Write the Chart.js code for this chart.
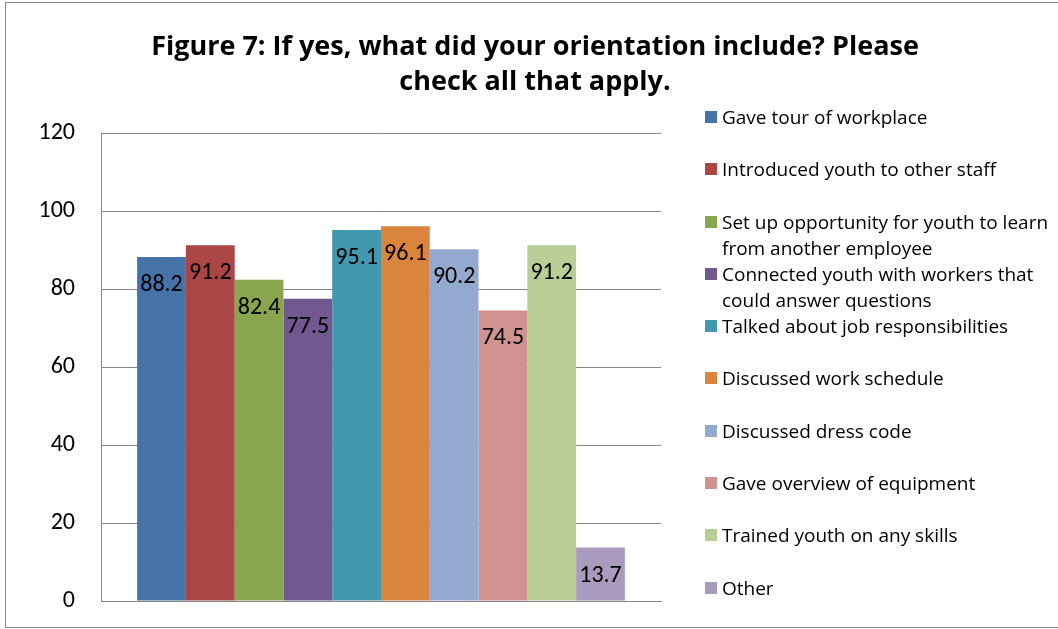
<!DOCTYPE html>
<html>
<head>
<meta charset="UTF-8">
<script src="https://cdn.jsdelivr.net/npm/chart.js@4"></script>
<style>
  html, body { margin: 0; padding: 0; background: #fff; }
  #wrap { position: relative; width: 1058px; height: 629px; overflow: hidden; font-family: Carlito, Lato, sans-serif; }
  #frame { position: absolute; left: 5px; top: 2px; width: 1100px; height: 626px; border: 1px solid #888; box-sizing: border-box; }
  #chart { position: absolute; left: 0; top: 0; }
  #title { position: absolute; left: 85px; width: 900px; top: 27px; text-align: center;
           font-family: "Open Sans", sans-serif; font-weight: bold; font-size: 27px; line-height: 35px; color: #000; }
  #legend { position: absolute; left: 705px; top: 104px; width: 350px; }
  .item { display: flex; align-items: flex-start; height: 52.3px; font-family: "Open Sans", sans-serif;
          font-size: 19px; line-height: 26px; color: #000; }
  .box { flex: 0 0 12px; width: 12px; height: 12px; margin-top: 7px; margin-right: 5px; }
</style>
</head>
<body>
<div id="wrap">
  <div id="frame"></div>
  <canvas id="chart" width="1058" height="629"></canvas>
  <div id="title">Figure 7: If yes, what did your orientation include? Please<br>check all that apply.</div>
  <div id="legend"></div>
</div>
<script>
  // series (one bar per answer)
  const labels = [
    'Gave tour of workplace',
    'Introduced youth to other staff',
    'Set up opportunity for youth to learn from another employee',
    'Connected youth with workers that could answer questions',
    'Talked about job responsibilities',
    'Discussed work schedule',
    'Discussed dress code',
    'Gave overview of equipment',
    'Trained youth on any skills',
    'Other'
  ];
  const values = [88.2, 91.2, 82.4, 77.5, 95.1, 96.1, 90.2, 74.5, 91.2, 13.7];
  const colors = ['#4572A7', '#AA4643', '#89A54E', '#71588F', '#4198AF',
                  '#DB843D', '#93A9CF', '#D19392', '#B9CD96', '#A99BBD'];
  const yTicks = [0, 20, 40, 60, 80, 100, 120];

  const FONT = 'Carlito, Lato, sans-serif';

  // values written inside the top of each bar
  const barLabels = {
    id: 'barLabels',
    afterDatasetsDraw(chart) {
      const ctx = chart.ctx;
      ctx.save();
      ctx.font = '24px ' + FONT;
      ctx.fillStyle = '#000';
      ctx.textAlign = 'center';
      ctx.textBaseline = 'middle';
      chart.data.datasets.forEach((ds, i) => {
        const bar = chart.getDatasetMeta(i).data[0];
        ctx.fillText(String(ds.data[0]), bar.x, bar.y + 28);
      });
      ctx.restore();
    }
  };

  const chart = new Chart(document.getElementById('chart'), {
    type: 'bar',
    data: {
      labels: [''],
      datasets: labels.map((l, i) => ({
        label: l,
        data: [values[i]],
        backgroundColor: colors[i],
        borderWidth: 0
      }))
    },
    options: {
      responsive: false,
      animation: false,
      layout: { padding: { left: 6, right: 397, top: 133, bottom: 28 } },
      datasets: { bar: { categoryPercentage: 0.871, barPercentage: 1 } },
      scales: {
        x: {
          afterFit(s) { s.height = 0; },
          grid: { display: false },
          border: { display: true, color: '#868686', width: 1 },
          ticks: { display: false }
        },
        y: {
          min: 0,
          max: 120,
          afterFit(s) {
            s.width = 95;
            // keep the label overhang inside the layout padding
            s.paddingTop = 14;
            s.paddingBottom = 14;
          },
          afterBuildTicks(s) { s.ticks = yTicks.map(v => ({ value: v })); },
          grid: { color: '#868686', lineWidth: 1, drawTicks: false },
          border: { display: true, color: '#868686', width: 1 },
          ticks: { padding: 26, color: '#000', font: { family: FONT, size: 24 } }
        }
      },
      plugins: {
        legend: { display: false },
        tooltip: { enabled: false }
      }
    },
    plugins: [barLabels]
  });

  // legend built from the chart datasets
  const legend = document.getElementById('legend');
  chart.data.datasets.forEach(ds => {
    const item = document.createElement('div');
    item.className = 'item';
    const box = document.createElement('span');
    box.className = 'box';
    box.style.background = ds.backgroundColor;
    const txt = document.createElement('span');
    txt.textContent = ds.label;
    item.appendChild(box);
    item.appendChild(txt);
    legend.appendChild(item);
  });
</script>
</body>
</html>
